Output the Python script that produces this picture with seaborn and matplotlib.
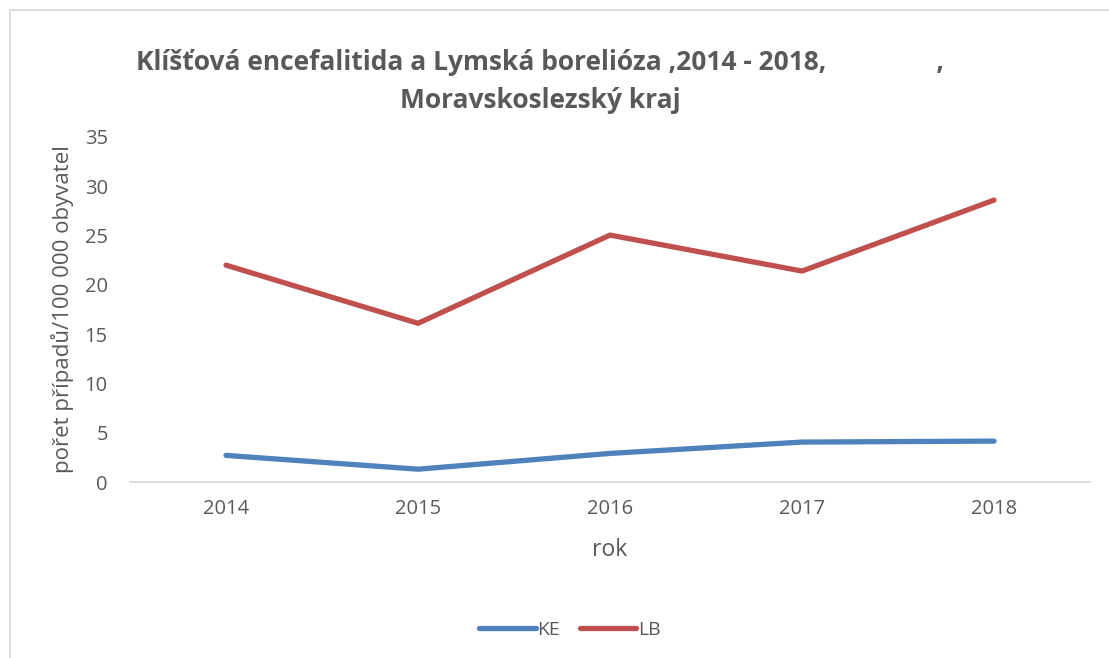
import matplotlib
matplotlib.use("Agg")
import matplotlib.pyplot as plt
import seaborn as sns
import pandas as pd
from matplotlib.patches import Rectangle

years = ["2014", "2015", "2016", "2017", "2018"]
ke = [2.7, 1.3, 2.9, 4.05, 4.15]
lb = [22.0, 16.1, 25.05, 21.4, 28.6]
series_names = ["KE", "LB"]
yticks = [0, 5, 10, 15, 20, 25, 30, 35]

df = pd.DataFrame({
    "rok": years * 2,
    "value": ke + lb,
    "serie": [series_names[0]] * len(years) + [series_names[1]] * len(years),
})

sns.set_theme(style="white")
plt.rcParams["font.family"] = ["Open Sans", "DejaVu Sans"]
gray = "#595959"

fig = plt.figure(figsize=(11.09, 6.58), dpi=100)
ax = fig.add_axes([130/1109, 1-482/658, 960/1109, 345/658])

sns.lineplot(data=df, x="rok", y="value", hue="serie", palette=["#4F81BD", "#C0504D"],
             linewidth=3.8, ax=ax, sort=False, legend=True)
for ln in ax.lines:
    ln.set_solid_capstyle("round")
    ln.set_solid_joinstyle("round")

ax.set_xlim(-0.5, 4.5)
ax.set_ylim(0, 35)
ax.set_yticks(yticks)
ax.set_yticklabels([str(v) for v in yticks])
for s in ["top", "right", "left"]:
    ax.spines[s].set_visible(False)
ax.spines["bottom"].set_color("#D9D9D9")
ax.spines["bottom"].set_linewidth(1.3)
ax.tick_params(axis="both", length=0, colors=gray, labelsize=14.5)
ax.tick_params(axis="x", pad=12)
ax.tick_params(axis="y", pad=16)
ax.set_xlabel("rok", fontsize=16.5, color=gray, labelpad=14)
ax.set_ylabel("pořet případů/100 000 obyvatel", fontsize=16, color=gray, labelpad=8)

handles, labels = ax.get_legend_handles_labels()
ax.legend(handles, labels, loc="center", bbox_to_anchor=(570/1109, 1-630/658),
          bbox_transform=fig.transFigure, ncol=2, frameon=False, fontsize=14,
          handlelength=2.9, handletextpad=0.1, columnspacing=1.0, labelcolor=gray)

fig.text(540/1109, 1-62/658, "Klíšťová encefalitida a Lymská borelióza ,2014 - 2018,                ,",
         ha="center", va="center", fontsize=19, fontweight="bold", color=gray)
fig.text(540/1109, 1-100/658, "Moravskoslezský kraj",
         ha="center", va="center", fontsize=19, fontweight="bold", color=gray)

fig.patches.append(Rectangle((10/1109, -0.1), 1.2, 1 - 10/658 + 0.1, transform=fig.transFigure,
                             fill=False, edgecolor="#D9D9D9", linewidth=1.3))

fig.savefig("out.png", dpi=100)
